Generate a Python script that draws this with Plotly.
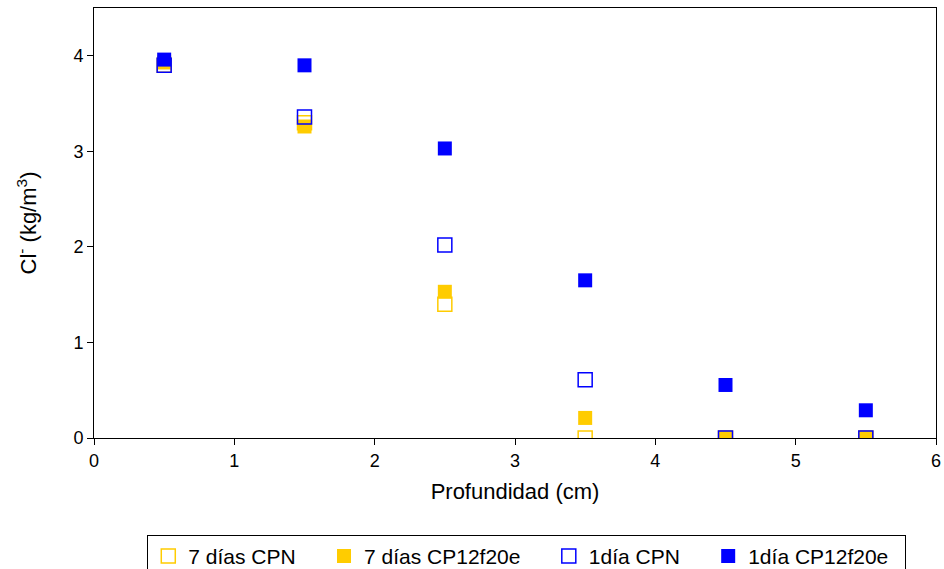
import plotly.graph_objects as go

depth = [0.5, 1.5, 2.5, 3.5, 4.5, 5.5]
cpn_7d = [3.90, 3.30, 1.40, 0.00, 0.00, 0.00]
cp12_7d = [3.93, 3.26, 1.53, 0.21, 0.00, 0.00]
cpn_1d = [3.90, 3.36, 2.02, 0.61, 0.00, 0.00]
cp12_1d = [3.96, 3.90, 3.03, 1.65, 0.555, 0.29]
names = ["7 días CPN", "7 días CP12f20e", "1día CPN", "1día CP12f20e"]

gold = "#FFCC00"
blue = "#0000FF"
pad = "\u00a0" * 4

fig = go.Figure()
series = [
    (names[0] + pad, cpn_7d, "square-open", gold),
    (names[1] + pad, cp12_7d, "square", gold),
    (names[2] + pad, cpn_1d, "square-open", blue),
    (names[3] + "\u00a0\u00a0", cp12_1d, "square", blue),
]
for name, vals, sym, col in series:
    fig.add_trace(go.Scatter(
        x=depth, y=vals, mode="markers", name=name,
        marker=dict(symbol=sym, size=14, color=col,
                    line=dict(width=1.5 if "open" in sym else 0, color=col)),
    ))

axis_common = dict(showline=True, linecolor="black", linewidth=1, mirror=True,
                   ticks="outside", ticklen=6, tickcolor="black", showgrid=False,
                   zeroline=False, tickfont=dict(family="Liberation Sans, Arial", size=18, color="black"))

fig.update_layout(
    width=944, height=569,
    margin=dict(l=94, r=8, t=8, b=131, autoexpand=False),
    plot_bgcolor="white", paper_bgcolor="white",
    font=dict(family="Liberation Sans, Arial", size=18, color="black"),
    xaxis=dict(range=[0, 6], dtick=1, title=dict(text="Profundidad (cm)", standoff=14), **axis_common),
    yaxis=dict(range=[0, 4.5], tickvals=[0, 1, 2, 3, 4],
               title=dict(text="Cl<sup>-</sup> (kg/m<sup>3</sup>)", standoff=30), **axis_common),
    legend=dict(orientation="h", x=0.514, xanchor="center", y=-0.225, yanchor="top",
                bordercolor="black", borderwidth=1, font=dict(size=21),
                itemwidth=30, entrywidth=0),
    showlegend=True,
)

fig.write_html("out.html")
